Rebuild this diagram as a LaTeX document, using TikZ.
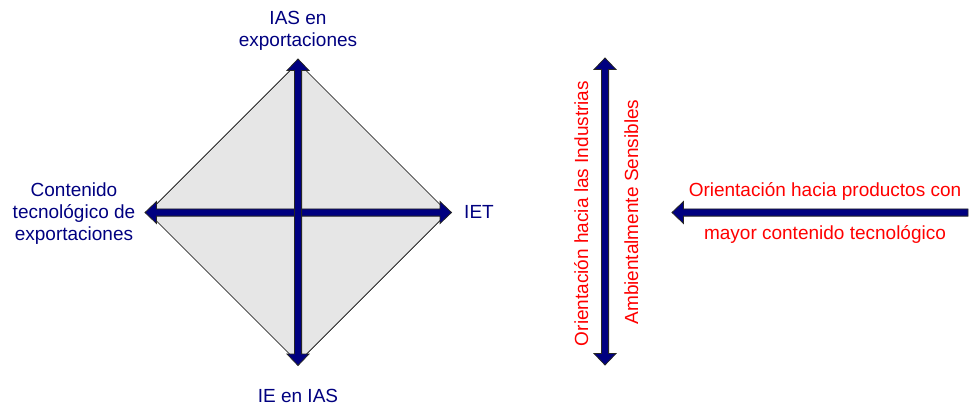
\documentclass[tikz,border=0pt]{standalone}
\usepackage{fontspec}
\setmainfont{Liberation Sans}
\usetikzlibrary{calc}
\definecolor{navyb}{RGB}{0,0,128}
\definecolor{redt}{RGB}{255,0,0}
\definecolor{diafill}{RGB}{230,230,230}
\begin{document}
\begin{tikzpicture}[x=1pt,y=-1pt,
  lbl/.style={font=\fontsize{19}{22}\selectfont, text=navyb, inner sep=0pt, align=center},
  rlbl/.style={font=\fontsize{19}{22}\selectfont, text=redt, inner sep=0pt},
  arr/.style={fill=navyb, draw=black!85, line width=0.8pt, line join=miter},
  dia/.style={fill=diafill, draw=black, line width=0.7pt}]
\useasboundingbox (0,0) rectangle (969,405);
% diamond
\coordinate (dL) at (148,212.5);
\coordinate (dT) at (298,62.5);
\coordinate (dR) at (448,212.5);
\coordinate (dB) at (298,362.5);
\draw[dia] (dL) -- (dT) -- (dR) -- (dB) -- cycle;
% arrow ends
\coordinate (hL) at (145,212.5);
\coordinate (hR) at (451.5,212.5);
\coordinate (vT) at (298,59);
\coordinate (vB) at (298,365.5);
\coordinate (oT) at (605,58);
\coordinate (oB) at (605,365);
\coordinate (pL) at (672,212.5);
\coordinate (pR) at (968,212.5);
% horizontal diamond arrow
\draw[arr] (hL) -- ++(11.5,-11) -- ++(0,7.4) -- ($(hR)+(-11.5,-3.6)$) -- ++(0,-7.4) -- (hR)
  -- ++(-11.5,11) -- ++(0,-7.4) -- ($(hL)+(11.5,3.6)$) -- ++(0,7.4) -- cycle;
% vertical diamond arrow
\draw[arr] (vT) -- ++(11,11.5) -- ++(-7.4,0) -- ($(vB)+(3.6,-11.5)$) -- ++(7.4,0) -- (vB)
  -- ++(-11,-11.5) -- ++(7.4,0) -- ($(vT)+(-3.6,11.5)$) -- ++(-7.4,0) -- cycle;
% right vertical arrow
\draw[arr] (oT) -- ++(11,11.5) -- ++(-7.4,0) -- ($(oB)+(3.6,-11.5)$) -- ++(7.4,0) -- (oB)
  -- ++(-11,-11.5) -- ++(7.4,0) -- ($(oT)+(-3.6,11.5)$) -- ++(-7.4,0) -- cycle;
% right horizontal arrow
\draw[arr] (pL) -- ++(11.5,-11) -- ++(0,7.4) -- ($(pR)+(0,-3.6)$) -- ++(0,7.2)
  -- ($(pL)+(11.5,3.6)$) -- ++(0,7.4) -- cycle;
% labels
\node[lbl] (top) at (298,31) {IAS en\\exportaciones};
\node[lbl] (left) at (74,213.5) {Contenido\\tecnológico de\\exportaciones};
\node[lbl, anchor=base] (iet) at (479,218.5) {IET};
\node[lbl, anchor=base] (ie) at (298,402) {IE en IAS};
\node[rlbl, rotate=90, anchor=base] (o1) at (588,213.5) {Orientación hacia las Industrias};
\node[rlbl, rotate=90, anchor=base] (o2) at (638,212) {Ambientalmente Sensibles};
\node[rlbl, anchor=base] (p1) at (825,196) {Orientación hacia productos con};
\node[rlbl, anchor=base] (p2) at (825,239) {mayor contenido tecnológico};
\end{tikzpicture}
\end{document}
